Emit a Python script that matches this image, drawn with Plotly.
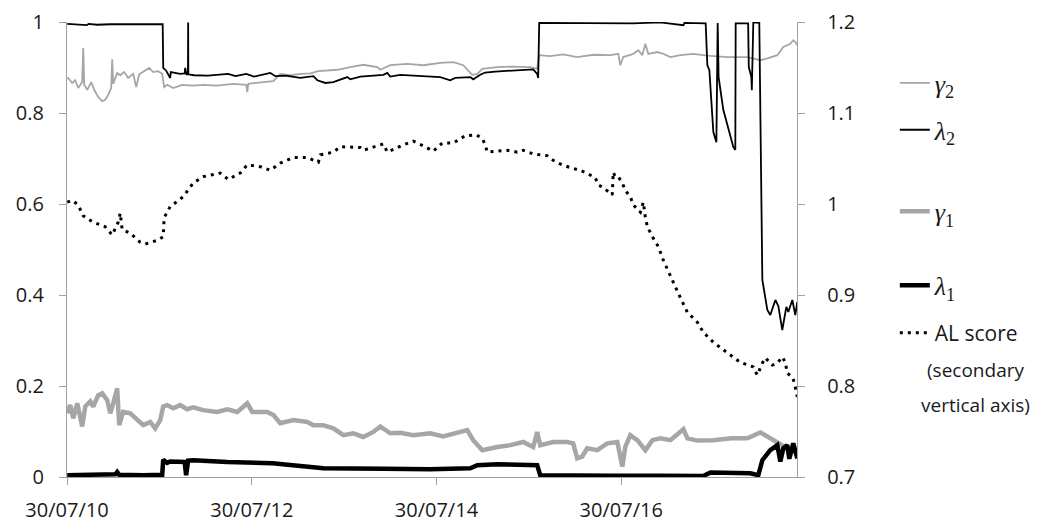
import pandas as pd
import plotly.graph_objects as go

# ---- data (time in decimal years) ----
gamma2 = [
    (2010.578, 0.875), (2010.589, 0.877), (2010.632, 0.866), (2010.665, 0.872), (2010.697, 0.855),
    (2010.740, 0.868), (2010.751, 0.943), (2010.762, 0.862), (2010.795, 0.851), (2010.838, 0.868),
    (2010.870, 0.851), (2010.914, 0.835), (2010.957, 0.826), (2010.989, 0.829), (2011.022, 0.840),
    (2011.054, 0.855), (2011.065, 0.918), (2011.076, 0.864), (2011.119, 0.888), (2011.152, 0.883),
    (2011.195, 0.890), (2011.239, 0.877), (2011.293, 0.886), (2011.325, 0.857), (2011.358, 0.885),
    (2011.401, 0.890), (2011.466, 0.899), (2011.509, 0.890), (2011.563, 0.892), (2011.607, 0.886),
    (2011.628, 0.857), (2011.661, 0.862), (2011.726, 0.855), (2011.823, 0.862), (2011.932, 0.860),
    (2012.051, 0.862), (2012.202, 0.860), (2012.375, 0.864), (2012.516, 0.862), (2012.527, 0.846),
    (2012.538, 0.864), (2012.700, 0.868), (2012.809, 0.870), (2012.884, 0.886), (2012.993, 0.883),
    (2013.101, 0.886), (2013.209, 0.887), (2013.296, 0.892), (2013.502, 0.895), (2013.642, 0.901),
    (2013.783, 0.906), (2013.935, 0.901), (2013.967, 0.895), (2014.075, 0.905), (2014.260, 0.908),
    (2014.433, 0.905), (2014.617, 0.910), (2014.758, 0.912), (2014.866, 0.905), (2014.963, 0.884),
    (2015.018, 0.886), (2015.072, 0.897), (2015.234, 0.901), (2015.407, 0.902), (2015.591, 0.901),
    (2015.667, 0.897), (2015.689, 0.927), (2015.808, 0.925), (2015.949, 0.929), (2016.100, 0.923),
    (2016.274, 0.928), (2016.458, 0.927), (2016.544, 0.930), (2016.566, 0.905), (2016.598, 0.923),
    (2016.707, 0.930), (2016.761, 0.938), (2016.804, 0.927), (2016.837, 0.952), (2016.869, 0.930),
    (2016.967, 0.934), (2017.032, 0.930), (2017.108, 0.923), (2017.216, 0.927), (2017.356, 0.930),
    (2017.508, 0.926), (2017.725, 0.923), (2017.941, 0.923), (2018.082, 0.916), (2018.158, 0.920),
    (2018.266, 0.927), (2018.331, 0.945), (2018.407, 0.952), (2018.439, 0.960), (2018.461, 0.956),
    (2018.483, 0.949),
]

lambda2 = [
    (2010.578, 0.996), (2010.700, 0.995), (2010.790, 0.993), (2010.810, 0.996), (2010.900, 0.994),
    (2011.050, 0.995), (2011.300, 0.995), (2011.612, 0.995), (2011.618, 0.899), (2011.650, 0.893),
    (2011.693, 0.877), (2011.700, 0.890), (2011.802, 0.886), (2011.850, 0.887), (2011.856, 0.899),
    (2011.870, 0.885), (2011.886, 0.885), (2011.888, 0.999), (2011.890, 0.885), (2011.950, 0.883),
    (2012.100, 0.882), (2012.321, 0.886), (2012.400, 0.881), (2012.516, 0.886), (2012.600, 0.880),
    (2012.776, 0.888), (2012.830, 0.881), (2012.939, 0.882), (2013.101, 0.877), (2013.242, 0.881),
    (2013.285, 0.872), (2013.372, 0.866), (2013.458, 0.868), (2013.610, 0.879), (2013.642, 0.874),
    (2013.751, 0.880), (2014.000, 0.884), (2014.043, 0.888), (2014.075, 0.880), (2014.184, 0.884),
    (2014.400, 0.881), (2014.617, 0.879), (2014.725, 0.872), (2014.779, 0.877), (2014.942, 0.879),
    (2014.974, 0.874), (2015.050, 0.884), (2015.104, 0.889), (2015.213, 0.891), (2015.375, 0.893),
    (2015.538, 0.895), (2015.624, 0.896), (2015.667, 0.886), (2015.678, 0.877), (2015.689, 0.998),
    (2016.000, 0.998), (2016.500, 0.998), (2016.700, 0.997), (2017.000, 0.999), (2017.249, 0.993),
    (2017.260, 0.998), (2017.490, 0.997), (2017.508, 0.905), (2017.530, 0.894), (2017.573, 0.758),
    (2017.606, 0.736), (2017.620, 0.998), (2017.630, 0.879), (2017.681, 0.807), (2017.736, 0.763),
    (2017.790, 0.725), (2017.811, 0.719), (2017.815, 0.997), (2017.950, 0.997), (2017.957, 0.901),
    (2017.985, 0.879), (2017.990, 0.850), (2018.006, 0.999), (2018.071, 0.998), (2018.104, 0.433),
    (2018.158, 0.367), (2018.190, 0.356), (2018.245, 0.389), (2018.277, 0.376), (2018.320, 0.323),
    (2018.364, 0.374), (2018.385, 0.363), (2018.429, 0.389), (2018.461, 0.356), (2018.483, 0.385),
]

gamma1 = [
    (2010.578, 0.140), (2010.610, 0.158), (2010.643, 0.129), (2010.686, 0.162), (2010.740, 0.111),
    (2010.773, 0.155), (2010.827, 0.166), (2010.860, 0.155), (2010.914, 0.180), (2010.957, 0.184),
    (2011.011, 0.169), (2011.044, 0.140), (2011.076, 0.162), (2011.119, 0.195), (2011.141, 0.114),
    (2011.184, 0.143), (2011.260, 0.140), (2011.336, 0.125), (2011.401, 0.114), (2011.477, 0.121),
    (2011.531, 0.107), (2011.585, 0.125), (2011.618, 0.155), (2011.661, 0.158), (2011.726, 0.151),
    (2011.802, 0.158), (2011.877, 0.149), (2011.942, 0.153), (2012.051, 0.147), (2012.202, 0.143),
    (2012.311, 0.149), (2012.419, 0.143), (2012.527, 0.162), (2012.581, 0.143), (2012.744, 0.143),
    (2012.809, 0.136), (2012.884, 0.118), (2013.025, 0.125), (2013.177, 0.121), (2013.242, 0.114),
    (2013.350, 0.114), (2013.458, 0.107), (2013.567, 0.092), (2013.675, 0.096), (2013.783, 0.088),
    (2013.891, 0.099), (2013.967, 0.111), (2014.075, 0.096), (2014.184, 0.097), (2014.325, 0.092),
    (2014.476, 0.094), (2014.509, 0.096), (2014.649, 0.089), (2014.801, 0.096), (2014.909, 0.103),
    (2014.974, 0.081), (2015.072, 0.059), (2015.234, 0.066), (2015.375, 0.070), (2015.516, 0.077),
    (2015.624, 0.066), (2015.667, 0.099), (2015.700, 0.070), (2015.840, 0.077), (2015.992, 0.077),
    (2016.057, 0.074), (2016.100, 0.041), (2016.154, 0.045), (2016.209, 0.063), (2016.317, 0.059),
    (2016.425, 0.074), (2016.534, 0.077), (2016.588, 0.023), (2016.620, 0.066), (2016.674, 0.092),
    (2016.750, 0.081), (2016.837, 0.059), (2016.913, 0.081), (2016.999, 0.085), (2017.108, 0.081),
    (2017.249, 0.105), (2017.292, 0.085), (2017.400, 0.080), (2017.573, 0.081), (2017.768, 0.085),
    (2017.941, 0.085), (2018.082, 0.098), (2018.158, 0.089), (2018.266, 0.077), (2018.331, 0.070),
    (2018.407, 0.059), (2018.483, 0.056),
]

lambda1 = [
    (2010.578, 0.004), (2010.800, 0.004), (2011.100, 0.006), (2011.119, 0.011), (2011.141, 0.005),
    (2011.400, 0.004), (2011.600, 0.004), (2011.607, 0.005), (2011.618, 0.038), (2011.661, 0.031),
    (2011.693, 0.034), (2011.850, 0.033), (2011.866, 0.004), (2011.888, 0.036), (2011.942, 0.037),
    (2012.100, 0.035), (2012.311, 0.033), (2012.800, 0.030), (2013.025, 0.026), (2013.177, 0.024),
    (2013.242, 0.022), (2013.350, 0.019), (2014.000, 0.018), (2014.509, 0.017), (2014.942, 0.019),
    (2015.018, 0.026), (2015.234, 0.028), (2015.667, 0.026), (2015.700, 0.004), (2016.000, 0.003),
    (2016.500, 0.003), (2017.000, 0.003), (2017.465, 0.002), (2017.541, 0.010), (2017.768, 0.010),
    (2017.974, 0.008), (2018.060, 0.004), (2018.104, 0.037), (2018.190, 0.059), (2018.266, 0.070),
    (2018.299, 0.034), (2018.331, 0.063), (2018.374, 0.070), (2018.396, 0.040), (2018.439, 0.074),
    (2018.483, 0.041),
]

al_score = [
    (2010.578, 1.002), (2010.632, 1.004), (2010.697, 0.999), (2010.751, 0.987), (2010.860, 0.980),
    (2010.989, 0.975), (2011.065, 0.966), (2011.130, 0.980), (2011.152, 0.990), (2011.173, 0.972),
    (2011.260, 0.968), (2011.368, 0.958), (2011.423, 0.956), (2011.553, 0.960), (2011.618, 0.964),
    (2011.628, 0.985), (2011.693, 0.997), (2011.834, 1.008), (2011.942, 1.023), (2012.051, 1.030),
    (2012.235, 1.034), (2012.321, 1.027), (2012.451, 1.034), (2012.527, 1.043), (2012.668, 1.041),
    (2012.776, 1.037), (2012.884, 1.045), (2013.025, 1.051), (2013.177, 1.051), (2013.296, 1.046),
    (2013.318, 1.054), (2013.458, 1.057), (2013.534, 1.063), (2013.751, 1.062), (2013.783, 1.059),
    (2014.000, 1.066), (2014.043, 1.057), (2014.216, 1.065), (2014.325, 1.069), (2014.433, 1.064),
    (2014.541, 1.058), (2014.639, 1.067), (2014.758, 1.067), (2014.888, 1.075), (2015.007, 1.076),
    (2015.072, 1.072), (2015.104, 1.065), (2015.126, 1.057), (2015.234, 1.058), (2015.343, 1.059),
    (2015.451, 1.057), (2015.516, 1.059), (2015.624, 1.055), (2015.776, 1.053), (2015.840, 1.048),
    (2015.916, 1.044), (2016.024, 1.040), (2016.133, 1.037), (2016.219, 1.033), (2016.295, 1.029),
    (2016.328, 1.021), (2016.382, 1.018), (2016.479, 1.010), (2016.490, 1.035), (2016.512, 1.030),
    (2016.544, 1.030), (2016.588, 1.023), (2016.620, 1.015), (2016.674, 1.008), (2016.707, 0.999),
    (2016.783, 0.991), (2016.815, 1.002), (2016.837, 0.985), (2016.859, 0.975), (2016.913, 0.964),
    (2016.978, 0.953), (2017.032, 0.938), (2017.108, 0.920), (2017.162, 0.909), (2017.216, 0.897),
    (2017.292, 0.881), (2017.400, 0.870), (2017.465, 0.859), (2017.573, 0.848), (2017.725, 0.837),
    (2017.865, 0.826), (2018.006, 0.821), (2018.049, 0.812), (2018.104, 0.825), (2018.136, 0.831),
    (2018.212, 0.823), (2018.266, 0.825), (2018.320, 0.832), (2018.353, 0.826), (2018.374, 0.814),
    (2018.429, 0.810), (2018.450, 0.804), (2018.483, 0.788),
]

x_range = ["2010-07-30", "2018-06-25"]


def to_date(d):
    y = int(d)
    start = pd.Timestamp(year=y, month=1, day=1)
    end = pd.Timestamp(year=y + 1, month=1, day=1)
    return start + (end - start) * (d - y)


def split(series):
    return [to_date(t) for t, _ in series], [v for _, v in series]


TICK_FONT = dict(family="Open Sans", size=20, color="#1a1a1a")
AL_FONT = dict(family="Open Sans", size=21, color="#1a1a1a")
NOTE_FONT = dict(family="Open Sans", size=19, color="#1a1a1a")
AXIS_GRAY = "#a0a0a0"
GREEK_FONT = dict(family="Liberation Serif", size=26, color="#1a1a1a")

fig = go.Figure()

x, y = split(gamma2)
fig.add_trace(go.Scatter(x=x, y=y, mode="lines", name="<i>γ</i><sub>2</sub>",
                         line=dict(color="#a6a6a6", width=1.8), legend="legend"))
x, y = split(lambda2)
fig.add_trace(go.Scatter(x=x, y=y, mode="lines", name="<i>λ</i><sub>2</sub>",
                         line=dict(color="#000000", width=1.8), legend="legend2"))
x, y = split(gamma1)
fig.add_trace(go.Scatter(x=x, y=y, mode="lines", name="<i>γ</i><sub>1</sub>",
                         line=dict(color="#a6a6a6", width=4.5), legend="legend3"))
x, y = split(lambda1)
fig.add_trace(go.Scatter(x=x, y=y, mode="lines", name="<i>λ</i><sub>1</sub>",
                         line=dict(color="#000000", width=4.5), legend="legend4"))
x, y = split(al_score)
fig.add_trace(go.Scatter(x=x, y=y, mode="lines", name="AL score", yaxis="y2",
                         line=dict(color="#000000", width=3, dash="3px,5px"), legend="legend5"))


def leg(yv, font):
    return dict(x=1.134, y=yv, xanchor="left", yanchor="middle", bgcolor="rgba(0,0,0,0)",
                font=font, borderwidth=0)


# the page body adds an 8px offset, so the figure is 8px smaller in each direction
fig.update_layout(
    width=1032, height=516,
    margin=dict(l=59, r=243, t=14, b=47, autoexpand=False),
    paper_bgcolor="white", plot_bgcolor="white",
    showlegend=True,
    legend=leg(0.866, GREEK_FONT),
    legend2=leg(0.763, GREEK_FONT),
    legend3=leg(0.584, GREEK_FONT),
    legend4=leg(0.421, GREEK_FONT),
    legend5=leg(0.316, AL_FONT),
    xaxis=dict(type="date", range=x_range, tick0="2010-07-30", dtick="M24",
               tickformat="%d/%m/%y", ticks="outside", ticklen=7, tickcolor=AXIS_GRAY,
               showline=True, linecolor=AXIS_GRAY, linewidth=1.3, showgrid=False,
               zeroline=False, tickfont=TICK_FONT, ticklabelstandoff=8),
    yaxis=dict(range=[0, 1], dtick=0.2, ticks="outside", ticklen=7, tickcolor=AXIS_GRAY,
               showline=True, linecolor=AXIS_GRAY, linewidth=1.3, showgrid=False,
               zeroline=False, tickfont=TICK_FONT, ticklabelstandoff=11),
    yaxis2=dict(range=[0.7, 1.2], dtick=0.1, overlaying="y", side="right", ticks="outside",
                ticklen=7, tickcolor=AXIS_GRAY, showline=True, linecolor=AXIS_GRAY,
                linewidth=1.3, showgrid=False, zeroline=False, tickfont=TICK_FONT,
                ticklabelstandoff=18),
    annotations=[
        dict(text="(secondary", xref="paper", yref="paper", x=1.244, y=0.235,
             xanchor="center", yanchor="middle", showarrow=False, font=NOTE_FONT),
        dict(text="vertical axis)", xref="paper", yref="paper", x=1.244, y=0.158,
             xanchor="center", yanchor="middle", showarrow=False, font=NOTE_FONT),
    ],
)

fig.write_html("out.html")
